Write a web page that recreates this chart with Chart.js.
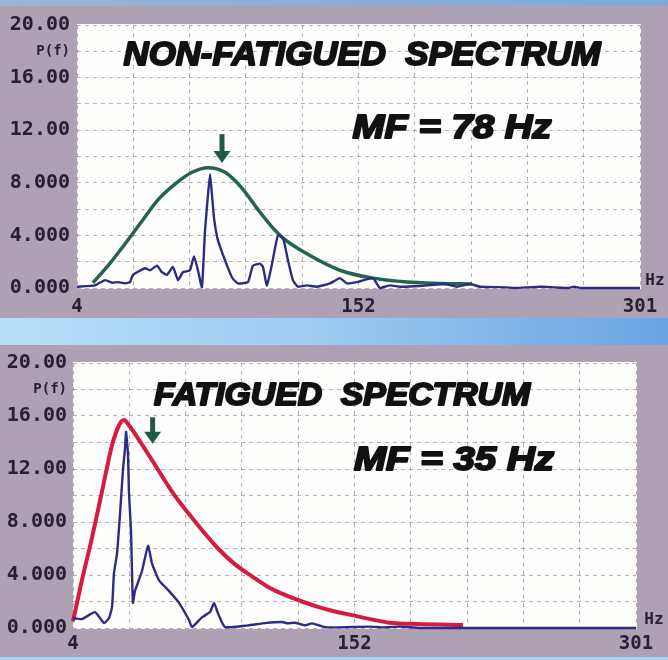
<!DOCTYPE html>
<html>
<head>
<meta charset="utf-8">
<script src="https://cdn.jsdelivr.net/npm/chart.js@4.4.1/dist/chart.umd.min.js"></script>
<style>
  html, body { margin: 0; padding: 0; }
  body { width: 668px; height: 660px; overflow: hidden; position: relative; background: #82a9dc; }
  .frame { position: absolute; left: 0; width: 668px; background: #ada1b3; }
  .band { position: absolute; left: 0; width: 668px; top: 318px; height: 27px;
          background: linear-gradient(90deg, #b9def8 0%, #9fcdf3 45%, #6aa4e2 100%); }
  .strip { position: absolute; left: 0; width: 668px; top: 0; height: 6px;
           background: linear-gradient(90deg, #9db4d4 0%, #7ea8dc 100%); }
  .foot { position: absolute; left: 0; width: 668px; top: 657px; height: 3px; background: #a9d2f4; }
  canvas { display: block; }
</style>
</head>
<body>
<div class="strip"></div>
<div class="frame" style="top:6px;height:312px"><canvas id="rest" width="668" height="312"></canvas></div>
<div class="band"></div>
<div class="frame" style="top:345px;height:312px"><canvas id="fatigue" width="668" height="312"></canvas></div>
<div class="foot"></div>
<script>
// ---- Non-fatigued muscle: raw power spectrum and fitted envelope ----
const restHz = [4, 13.5, 18.8, 22.5, 25.6, 29.3, 32, 33.5, 39.9, 42.5, 46.2, 48.8, 51.5, 54.6, 57.3, 59.9,
  63.6, 65.7, 67.8, 69.9, 71.5, 73.1, 74.2, 75.2, 76.3, 78.4, 82.1, 85.8, 88.9, 94.2, 96.8, 100.5,
  102.1, 104.2, 106.9, 110, 112.7, 115.3, 117.9, 120.6, 125.3, 130.6, 137.5, 142.7, 146.4, 151.7, 160.1, 163.8,
  169.1, 174.4, 184.9, 198.1, 204.4, 211.3, 216.6, 230.4, 234.5, 248.8, 255.6, 263, 266.2, 269.9, 301];
const restPower = [0.1, 0.2, 0.6, 0.4, 0.45, 0.35, 0.45, 1.0, 1.5, 1.35, 1.7, 1.2, 1.0, 1.6, 0.6, 1.2,
  1.35, 2.4, 1.35, 0.05, 4.3, 7.1, 8.65, 7.1, 5.3, 3.6, 2.1, 0.8, 0.35, 0.45, 1.7, 1.85,
  1.6, 0.2, 1.85, 4.0, 3.8, 2.1, 0.6, 0.1, 0.2, 0.1, 0.35, 0.75, 0.35, 0.45, 0.75, 0,
  0.2, 0.1, 0.15, 0.3, 0.1, 0.3, 0.1, 0.05, 0, 0.1, 0.05, 0, 0.1, 0, 0];
const restFitHz = [12.4, 20.4, 29.3, 38.3, 46.7, 55.7, 64.7, 73.1, 82.1, 91.0, 99.0, 107.4, 112.7, 125.3, 142.7, 160.1, 178.1, 195.5, 212.4];
const restFit = [0.4, 1.7, 3.35, 5.1, 6.7, 7.9, 8.8, 9.15, 8.8, 7.6, 6.05, 4.55, 3.8, 2.6, 1.35, 0.75, 0.45, 0.35, 0.3];

// ---- Fatigued muscle: raw power spectrum and fitted envelope ----
const fatigueHz = [4, 8.7, 15.6, 20.4, 23, 24.6, 25.6, 27.2, 28.8, 30.4, 31.4, 32, 33, 33.5, 34.6, 35.6,
  36.7, 40.4, 43.6, 45.7, 49.4, 54.6, 59.9, 65.2, 66.8, 72, 76.3, 78.4, 80.5, 84.2, 96.3, 105.3,
  114.2, 117.4, 121.1, 126.4, 130.1, 136.9, 143.8, 160.7, 167.5, 176.5, 187, 301];
const fatiguePower = [0.75, 0.67, 1.2, 0.37, 0.75, 1.6, 4.1, 5.6, 8.6, 12.0, 13.5, 14.8, 13.1, 10.3, 7.3, 1.9,
  2.8, 4.3, 6.2, 4.85, 3.6, 2.8, 1.9, 0.6, 0.07, 0.8, 1.2, 1.9, 1.1, 0.07, 0.2, 0.37,
  0.45, 0.35, 0.4, 0.2, 0.35, 0.07, 0.05, 0.1, 0.05, 0.1, 0, 0];
const fatigueFitHz = [4, 8.7, 14, 19.3, 24.6, 28.3, 30.9, 33.5, 38.8, 47.3, 56.2, 65.2, 72, 80.5, 89.5, 98.4,
  106.9, 115.8, 124.8, 133.2, 142.2, 151.2, 160.7, 171.2, 185.5, 209.7];
const fatigueFit = [0.5, 3.6, 6.8, 10.3, 13.8, 15.3, 15.7, 15.3, 14.2, 12.3, 10.3, 8.6, 7.4, 6.0, 4.8, 3.9,
  3.1, 2.5, 2.0, 1.6, 1.25, 0.97, 0.67, 0.4, 0.3, 0.22];

// ---- Median-frequency markers (arrow x in Hz, tail and tip in P(f)) ----
const arrowHz = [80.5, 46];
const arrowTail = [11.7, 15.9];
const arrowTip = [9.5, 13.9];

// ---- Axis labelling ----
const xTickLabels = [4, 152, 301];
const yTickValues = [0, 4, 8, 12, 16, 20];
const yTickText = ['0.000', '4.000', '8.000', '12.00', '16.00', '20.00'];
const yAxisName = 'P(f)';
const yAxisNameAt = 18;
const unitLabel = 'Hz';
const panelTitles = ['NON-FATIGUED  SPECTRUM', 'FATIGUED  SPECTRUM'];
const medianFreq = [78, 35];

const X_MIN = 4, X_MAX = 301, Y_MAX = 20;
const xGrid = Array.from({ length: 11 }, (_, i) => X_MIN + i * (X_MAX - X_MIN) / 10);

const TICK_FONT = "'DejaVu Sans Mono'";
const TITLE_FONT = "'Liberation Sans'";
const INK = '#262030';

const xy = (xs, ys) => xs.map((x, i) => ({ x, y: ys[i] }));

// white plot surface, titles, MF arrow and the Hz unit
const panelDecor = {
  id: 'panelDecor',
  beforeDraw(chart) {
    const a = chart.chartArea, ctx = chart.ctx;
    ctx.save();
    ctx.fillStyle = '#fefefc';
    ctx.fillRect(a.left, a.top - 1, a.right - a.left + 1, a.bottom - a.top + 2);
    ctx.restore();
  },
  afterDatasetsDraw(chart, args, o) {
    const ctx = chart.ctx, xs = chart.scales.x, ys = chart.scales.y;
    const i = o.index;
    const x = xs.getPixelForValue(arrowHz[i]);
    const y0 = ys.getPixelForValue(arrowTail[i]);
    const y1 = ys.getPixelForValue(arrowTip[i]);
    const head = 12;
    ctx.save();
    ctx.fillStyle = '#1f5a47';
    ctx.fillRect(x - 2.5, y0, 5, (y1 - y0) - head + 1);
    ctx.beginPath();
    ctx.moveTo(x - 8.5, y1 - head);
    ctx.lineTo(x + 8.5, y1 - head);
    ctx.lineTo(x, y1);
    ctx.closePath();
    ctx.fill();
    ctx.restore();
  },
  afterDraw(chart, args, o) {
    const ctx = chart.ctx, a = chart.chartArea;
    const drawFit = (text, cx, baseY, size, width) => {
      ctx.save();
      ctx.font = 'italic bold ' + size + 'px ' + TITLE_FONT;
      ctx.textAlign = 'center';
      ctx.textBaseline = 'alphabetic';
      const w = ctx.measureText(text).width;
      ctx.translate(a.left + cx, a.top + baseY);
      ctx.scale(width / w, 1);
      ctx.fillStyle = '#111';
      ctx.strokeStyle = '#111';
      ctx.lineWidth = 2;
      ctx.lineJoin = 'round';
      ctx.strokeText(text, 0, 0);
      ctx.fillText(text, 0, 0);
      ctx.restore();
    };
    const t = o.title, m = o.mf;
    drawFit(panelTitles[o.index], t.cx, t.base, t.size, t.width);
    drawFit('MF = ' + medianFreq[o.index] + ' Hz', m.cx, m.base, m.size, m.width);

    ctx.save();
    ctx.font = 'bold 16px ' + TICK_FONT;
    ctx.fillStyle = INK;
    ctx.textAlign = 'center';
    ctx.textBaseline = 'middle';
    ctx.fillText(unitLabel, a.right + o.unit.dx, a.bottom + o.unit.dy);
    ctx.restore();
  }
};

function makeChart(id, index, raw, fit, fitColor, fitWidth, lay) {
  return new Chart(document.getElementById(id), {
    type: 'line',
    data: {
      datasets: [
        {
          data: fit,
          borderColor: fitColor,
          borderWidth: fitWidth,
          pointRadius: 0,
          tension: 0.4,
          cubicInterpolationMode: 'monotone',
          clip: 4,
          order: 2
        },
        {
          data: raw,
          borderColor: '#2c2c86',
          borderWidth: 2.4,
          pointRadius: 0,
          tension: 0.15,
          clip: 4,
          order: 1
        }
      ]
    },
    options: {
      responsive: false,
      animation: false,
      events: [],
      layout: { padding: { left: 0, top: lay.top, right: lay.right, bottom: 0 } },
      plugins: {
        legend: { display: false },
        title: { display: false },
        tooltip: { enabled: false },
        panelDecor: { index, title: lay.title, mf: lay.mf, unit: lay.unit }
      },
      scales: {
        x: {
          type: 'linear',
          min: X_MIN,
          max: X_MAX,
          afterBuildTicks: (s) => { s.ticks = xGrid.map(v => ({ value: v })); },
          afterFit: (s) => { s.height = lay.xHeight; },
          grid: { color: 'rgba(105,100,120,0.5)', lineWidth: 1, drawTicks: false },
          border: { display: false, dash: [4, 4] },
          ticks: {
            autoSkip: false,
            maxRotation: 0,
            padding: lay.xPad,
            color: INK,
            font: { family: TICK_FONT, size: 19, weight: 'bold' },
            callback: (v) => {
              const k = xTickLabels.findIndex(t => Math.abs(t - v) < 1);
              return k >= 0 ? String(xTickLabels[k]) : '';
            }
          }
        },
        y: {
          type: 'linear',
          min: 0,
          max: Y_MAX,
          afterFit: (s) => { s.width = lay.yWidth; },
          grid: { color: 'rgba(105,100,120,0.5)', lineWidth: 1, drawTicks: false },
          border: { display: false, dash: [4, 4] },
          ticks: {
            stepSize: 2,
            autoSkip: false,
            padding: lay.yPad,
            color: INK,
            font: (c) => (c.tick && c.tick.value === yAxisNameAt)
              ? { family: TICK_FONT, size: 14, weight: 'bold' }
              : { family: TICK_FONT, size: 20, weight: 'bold' },
            callback: (v) => {
              if (v === yAxisNameAt) return yAxisName;
              const k = yTickValues.indexOf(v);
              return k >= 0 ? yTickText[k] : '';
            }
          }
        }
      }
    },
    plugins: [panelDecor]
  });
}

makeChart('rest', 0, xy(restHz, restPower), xy(restFitHz, restFit), '#25644c', 3.5, {
  top: 14, right: 28, xHeight: 30, yWidth: 77, xPad: 8, yPad: 7,
  title: { cx: 285, base: 40, size: 34, width: 477 },
  mf: { cx: 375, base: 113, size: 34, width: 199 },
  unit: { dx: 15, dy: -7 }
});

makeChart('fatigue', 1, xy(fatigueHz, fatiguePower), xy(fatigueFitHz, fatigueFit), '#d61a40', 4, {
  top: 15, right: 32, xHeight: 29, yWidth: 73, xPad: 5, yPad: 6,
  title: { cx: 269, base: 42, size: 31, width: 376 },
  mf: { cx: 381, base: 107, size: 33, width: 200 },
  unit: { dx: 18, dy: -8 }
});
</script>
</body>
</html>
